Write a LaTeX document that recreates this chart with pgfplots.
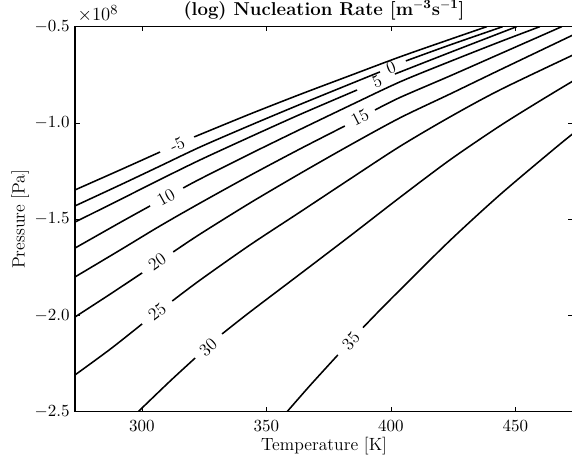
\documentclass[border=0pt]{standalone}
\usepackage{pgfplots}
\pgfplotsset{compat=1.18}
\pgfplotsset{cl/.style={black, line width=1pt, smooth, tension=0.5, mark=none}}
\begin{document}
\begin{tikzpicture}[font=\fontsize{11.4}{13.7}\selectfont]
\begin{axis}[
  scale only axis, width=321.3pt, height=248.4pt,
  xmin=273.15, xmax=473.15, ymin=-2.5, ymax=-0.5,
  xtick={300,350,400,450}, ytick={-2.5,-2,-1.5,-1,-0.5},
  yticklabels={$-2.5$,$-2.0$,$-1.5$,$-1.0$,$-0.5$},
  tick label style={font=\fontsize{11.4}{13.7}\selectfont},
  xticklabel style={yshift=-2pt},
  tick align=inside, major tick length=3pt,
  axis line style={line width=1pt},
  major tick style={black, line width=0.5pt},
  xlabel={Temperature [K]}, ylabel={Pressure [Pa]},
  label style={font=\fontsize{11.4}{13.7}\selectfont},
  xlabel style={at={(axis description cs:0.5,-0.089)}, anchor=center},
  ylabel style={at={(axis description cs:-0.11,0.5)}, anchor=center},
  title={\textbf{(log) Nucleation Rate [m$^{\mathbf{-3}}$s$^{\mathbf{-1}}$]}},
  every axis title/.style={at={(axis description cs:0.5,1)}, anchor=base, yshift=7.5pt, font=\fontsize{12}{14.4}\selectfont},
]
% level -5
\addplot[cl] coordinates {(273.15,-1.348) (291.3,-1.244) (307.3,-1.151)};
\addplot[cl] coordinates {(321.0,-1.073) (323.4,-1.060) (343.4,-0.954) (363.5,-0.852) (383.6,-0.754) (403.6,-0.657) (423.7,-0.566) (438.5,-0.5)};
% level 0
\addplot[cl] coordinates {(273.15,-1.431) (291.3,-1.322) (307.3,-1.224) (323.4,-1.125) (343.4,-1.013) (363.5,-0.904) (383.6,-0.798) (395.6,-0.735)};
\addplot[cl] coordinates {(406.0,-0.678) (423.7,-0.595) (444.9,-0.5)};
% level 5
\addplot[cl] coordinates {(273.15,-1.515) (291.3,-1.398) (307.3,-1.294) (323.4,-1.192) (343.4,-1.073) (363.5,-0.956) (386.4,-0.829)};
\addplot[cl] coordinates {(401.6,-0.746) (423.7,-0.634) (450.5,-0.5)};
% level 10
\addplot[cl] coordinates {(273.15,-1.650) (291.3,-1.517) (303.3,-1.431)};
\addplot[cl] coordinates {(316.6,-1.338) (323.4,-1.291) (343.4,-1.161) (363.5,-1.034) (383.6,-0.909) (403.6,-0.787) (423.7,-0.681) (443.7,-0.579) (459.8,-0.5)};
% level 15
\addplot[cl] coordinates {(273.15,-1.800) (291.3,-1.660) (307.3,-1.535) (323.4,-1.416) (343.4,-1.273) (363.5,-1.135) (381.5,-1.016)};
\addplot[cl] coordinates {(393.6,-0.933) (403.6,-0.868) (423.7,-0.756) (443.7,-0.642) (468.6,-0.5)};
% level 20
\addplot[cl] coordinates {(273.15,-2.008) (287.3,-1.889) (300.1,-1.779)};
\addplot[cl] coordinates {(312.6,-1.670) (323.4,-1.577) (343.4,-1.416) (363.5,-1.263) (383.6,-1.115) (403.6,-0.974) (423.7,-0.850) (443.7,-0.725) (473.15,-0.543)};
% level 25
\addplot[cl] coordinates {(273.15,-2.309) (287.3,-2.175) (300.1,-2.044)};
\addplot[cl] coordinates {(312.2,-1.925) (323.4,-1.816) (343.4,-1.634) (363.5,-1.463) (383.6,-1.291) (403.6,-1.122) (423.7,-0.969) (443.7,-0.829) (473.15,-0.647)};
% level 30
\addplot[cl] coordinates {(298.5,-2.5) (311.4,-2.340) (321.4,-2.221)};
\addplot[cl] coordinates {(332.2,-2.096) (343.4,-1.982) (363.5,-1.785) (383.6,-1.587) (403.6,-1.387) (423.7,-1.192) (443.7,-1.016) (459.8,-0.886) (473.15,-0.782)};
% level 35
\addplot[cl] coordinates {(358.3,-2.5) (367.5,-2.364) (378.7,-2.205)};
\addplot[cl] coordinates {(388.8,-2.063) (395.6,-1.972) (403.6,-1.868) (423.7,-1.611) (443.7,-1.374) (465.0,-1.141) (473.15,-1.055)};
% labels
\node[rotate=25] at (axis cs:314.2,-1.112) {-5};
\node[rotate=22] at (axis cs:400.0,-0.712) {0};
\node[rotate=24] at (axis cs:394.4,-0.787) {5};
\node[rotate=29] at (axis cs:309.7,-1.385) {10};
\node[rotate=27] at (axis cs:387.6,-0.974) {15};
\node[rotate=35] at (axis cs:306.1,-1.722) {20};
\node[rotate=37] at (axis cs:306.1,-1.982) {25};
\node[rotate=42] at (axis cs:326.6,-2.164) {30};
\node[rotate=48] at (axis cs:383.9,-2.133) {35};
\end{axis}
\node[anchor=south west, inner sep=0pt, font=\fontsize{12.5}{15}\selectfont] at ([xshift=1.5pt,yshift=2.5pt]current axis.north west) {$\times10^{8}$};
\pgfresetboundingbox
\path[use as bounding box] ([xshift=-48.4pt,yshift=-31.2pt]current axis.south west) rectangle ([xshift=320.6pt,yshift=17.2pt]current axis.north west);
\end{tikzpicture}
\end{document}
